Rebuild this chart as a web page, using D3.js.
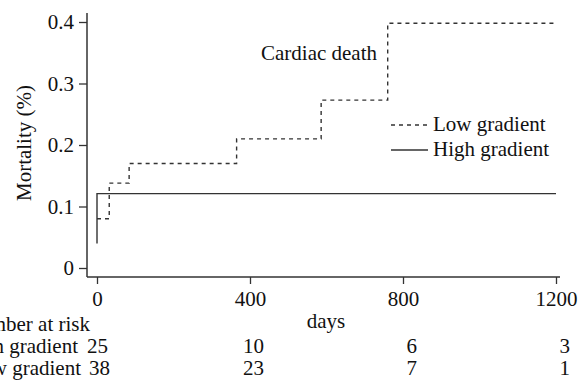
<!DOCTYPE html>
<html>
<head>
<meta charset="utf-8">
<script src="https://cdn.jsdelivr.net/npm/d3@7"></script>
<style>
  body { margin: 0; background: #fff; }
  svg text { font-family: 'Liberation Serif', 'Times New Roman', serif; fill: #111; }
</style>
</head>
<body>
<div id="chart"></div>
<script>
// Kaplan-Meier style cumulative mortality
const lowGradientDays = [0, 32, 84, 365, 586, 760, 1200]
const lowGradientMortality = [0.08, 0.138, 0.17, 0.21, 0.273, 0.398, 0.398]
const highGradientDays = [0, 0, 1200]
const highGradientMortality = [0.04, 0.121, 0.121]

// Number at risk table
const riskDays = [0, 400, 800, 1200]
const riskHigh = [25, 10, 6, 3]
const riskLow = [38, 23, 7, 1]

const xTicks = [0, 400, 800, 1200]
const yTicks = [0, 0.1, 0.2, 0.3, 0.4]

;(function () {
  const width = 585
  const height = 385
  const fontSize = 21
  const ink = '#333'

  const svg = d3.select('#chart').append('svg')
    .attr('width', width)
    .attr('height', height)

  const x = d3.scaleLinear().domain([0, 1200]).range([97, 556])
  const y = d3.scaleLinear().domain([0, 0.4]).range([268, 22])

  const axisX = 87
  const axisY = 277

  // ---- axes ----
  const yAxis = d3.axisLeft(y)
    .tickValues(yTicks)
    .tickFormat(d => d === 0 ? '0' : d3.format('.1f')(d))
    .tickSize(8)
    .tickPadding(5)

  const gy = svg.append('g')
    .attr('transform', translation(axisX, 0))
    .call(yAxis)
  gy.select('.domain').remove()
  gy.selectAll('line').attr('stroke', ink).attr('stroke-width', 1.3)
  gy.selectAll('text').attr('font-size', fontSize).attr('fill', '#111')

  const xAxis = d3.axisBottom(x)
    .tickValues(xTicks)
    .tickFormat(d3.format('d'))
    .tickSize(7)
    .tickPadding(7)

  const gx = svg.append('g')
    .attr('transform', translation(0, axisY))
    .call(xAxis)
  gx.select('.domain').remove()
  gx.selectAll('line').attr('stroke', ink).attr('stroke-width', 1.3)
  gx.selectAll('text').attr('font-size', fontSize).attr('fill', '#111')

  // axis frame lines (they extend past the tick range)
  svg.append('line')
    .attr('x1', axisX).attr('x2', axisX)
    .attr('y1', 13).attr('y2', axisY)
    .attr('stroke', ink).attr('stroke-width', 1.5)
  svg.append('line')
    .attr('x1', axisX).attr('x2', 560)
    .attr('y1', axisY).attr('y2', axisY)
    .attr('stroke', ink).attr('stroke-width', 1.5)

  // axis titles
  svg.append('text')
    .attr('transform', translation(31, 143) + ' rotate(-90)')
    .attr('text-anchor', 'middle')
    .attr('font-size', fontSize)
    .text('Mortality (%)')

  svg.append('text')
    .attr('x', 326).attr('y', 328)
    .attr('text-anchor', 'middle')
    .attr('font-size', fontSize)
    .text('days')

  // ---- curves ----
  const line = d3.line()
    .x(d => x(d[0]))
    .y(d => y(d[1]))
    .curve(d3.curveStepAfter)

  const highData = d3.zip(highGradientDays, highGradientMortality)
  const lowData = d3.zip(lowGradientDays, lowGradientMortality)

  svg.append('path')
    .datum(highData)
    .attr('d', line)
    .attr('fill', 'none')
    .attr('stroke', ink)
    .attr('stroke-width', 1.4)

  svg.append('path')
    .datum(lowData)
    .attr('d', line)
    .attr('fill', 'none')
    .attr('stroke', ink)
    .attr('stroke-width', 1.4)
    .attr('stroke-dasharray', '4,4')

  // ---- annotation and legend ----
  svg.append('text')
    .attr('x', 261).attr('y', 60)
    .attr('font-size', fontSize)
    .text('Cardiac death')

  const legend = svg.append('g').attr('transform', translation(391, 0))
  legend.append('line')
    .attr('x1', 0).attr('x2', 37).attr('y1', 125).attr('y2', 125)
    .attr('stroke', ink).attr('stroke-width', 1.4)
    .attr('stroke-dasharray', '4,4')
  legend.append('text')
    .attr('x', 42).attr('y', 131)
    .attr('font-size', fontSize)
    .text('Low gradient')
  legend.append('line')
    .attr('x1', 0).attr('x2', 37).attr('y1', 150).attr('y2', 150)
    .attr('stroke', ink).attr('stroke-width', 1.4)
  legend.append('text')
    .attr('x', 42).attr('y', 156)
    .attr('font-size', fontSize)
    .text('High gradient')

  // ---- number at risk table ----
  svg.append('text')
    .attr('x', 90).attr('y', 331)
    .attr('text-anchor', 'end')
    .attr('font-size', fontSize)
    .text('Number at risk')

  svg.append('text')
    .attr('x', 78).attr('y', 353)
    .attr('text-anchor', 'end')
    .attr('font-size', fontSize)
    .text('High gradient')

  svg.append('text')
    .attr('x', 81).attr('y', 375)
    .attr('text-anchor', 'end')
    .attr('font-size', fontSize)
    .text('Low gradient')

  svg.selectAll('.risk-high')
    .data(riskDays)
    .enter().append('text')
    .attr('class', 'risk-high')
    .attr('x', (d, i) => x(d) + (i === 0 ? 11 : 14))
    .attr('y', 353)
    .attr('text-anchor', 'end')
    .attr('font-size', fontSize)
    .text((d, i) => riskHigh[i])

  svg.selectAll('.risk-low')
    .data(riskDays)
    .enter().append('text')
    .attr('class', 'risk-low')
    .attr('x', (d, i) => x(d) + (i === 0 ? 13 : 14))
    .attr('y', 375)
    .attr('text-anchor', 'end')
    .attr('font-size', fontSize)
    .text((d, i) => riskLow[i])

  function translation (tx, ty) {
    return 'translate(' + tx + ',' + ty + ')'
  }
}())
</script>
</body>
</html>
